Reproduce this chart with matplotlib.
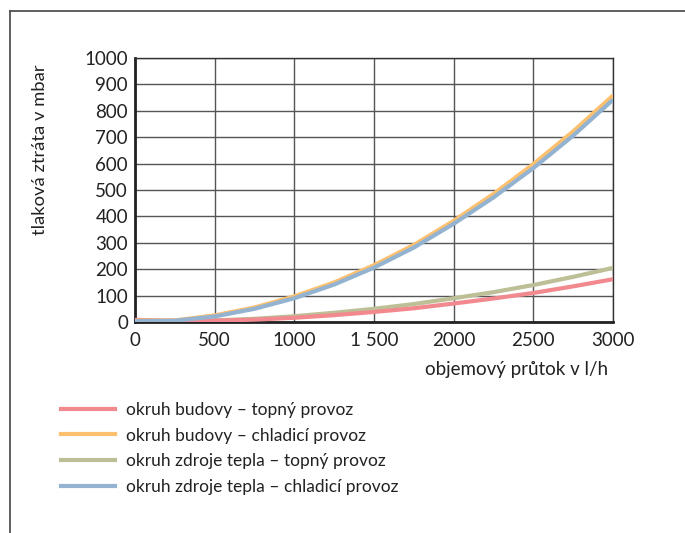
import matplotlib.pyplot as plt
from matplotlib.lines import Line2D

plt.rcParams['font.family'] = ['Lato', 'DejaVu Sans']

# průtok v l/h
prutok = [0, 250, 500, 750, 1000, 1250, 1500, 1750, 2000, 2250, 2500, 2750, 3000]
# tlaková ztráta v mbar
budova_topeni = [8, 5, 5, 9, 16, 26, 38, 52, 70, 89, 110, 135, 162]
budova_chlazeni = [5, 6, 25, 55, 97, 150, 215, 292, 383, 485, 598, 722, 858]
zdroj_topeni = [2, 3, 6, 12, 22, 35, 50, 68, 90, 113, 140, 171, 205]
zdroj_chlazeni = [3, 5, 21, 50, 90, 142, 206, 282, 372, 472, 583, 706, 842]

nazvy = ["okruh budovy – topný provoz",
         "okruh budovy – chladicí provoz",
         "okruh zdroje tepla – topný provoz",
         "okruh zdroje tepla – chladicí provoz"]
barvy = ["#f2898f", "#fdc06f", "#bdbf97", "#94b3d1"]

x_ticks = [0, 500, 1000, 1500, 2000, 2500, 3000]
x_labels = ["0", "500", "1000", "1 500", "2000", "2500", "3000"]
y_ticks = list(range(0, 1001, 100))

fig = plt.figure(figsize=(6.85, 5.33), dpi=100)
ax = fig.add_axes([135/685, 1 - 322/533, (613-135)/685, (322-58)/533])

# vykreslení křivek (zelená a červená pod modrou/oranžovou)
ax.plot(prutok, zdroj_topeni, color=barvy[2], lw=3, solid_capstyle='butt', zorder=3)
ax.plot(prutok, budova_topeni, color=barvy[0], lw=3, solid_capstyle='butt', zorder=3)
ax.plot(prutok, budova_chlazeni, color=barvy[1], lw=3, solid_capstyle='butt', zorder=3)
ax.plot(prutok, zdroj_chlazeni, color=barvy[3], lw=3, solid_capstyle='butt', zorder=3)

ax.set_xlim(0, 3000)
ax.set_ylim(0, 1000)
ax.set_xticks(x_ticks)
ax.set_xticklabels(x_labels)
ax.set_yticks(y_ticks)
ax.tick_params(length=0, labelsize=13.5, colors='#222222')
ax.tick_params(axis='x', pad=7)
ax.tick_params(axis='y', pad=5)
ax.grid(True, color='#555555', lw=1)
ax.set_axisbelow(True)
for s in ['top', 'right']:
    ax.spines[s].set_linewidth(1)
    ax.spines[s].set_color('#333333')
for s in ['left', 'bottom']:
    ax.spines[s].set_linewidth(2)
    ax.spines[s].set_color('#222222')

fig.text(608/685, 1 - 370/533, "objemový průtok v l/h", ha='right', va='center',
         fontsize=13.5, color='#222222')
fig.text(40/685, 1 - 150/533, "tlaková ztráta v mbar", rotation=90, ha='center',
         va='center', fontsize=13.2, color='#222222')

# legenda pod grafem
handles = [Line2D([0], [0], color=c, lw=3) for c in barvy]
fig.legend(handles, nazvy, loc='upper left', bbox_to_anchor=(61/685, 1 - 402/533),
           frameon=False, fontsize=12.5, handlelength=3.1, handletextpad=0.63,
           labelspacing=0.55, borderpad=0, borderaxespad=0, labelcolor='#222222')

# rámeček
fig.add_artist(Line2D([10/685, 1], [1 - 11/533, 1 - 11/533], color='#444444', lw=1.2))
fig.add_artist(Line2D([10/685, 10/685], [0, 1 - 11/533], color='#444444', lw=1.2))

fig.savefig("out.png", dpi=100)
